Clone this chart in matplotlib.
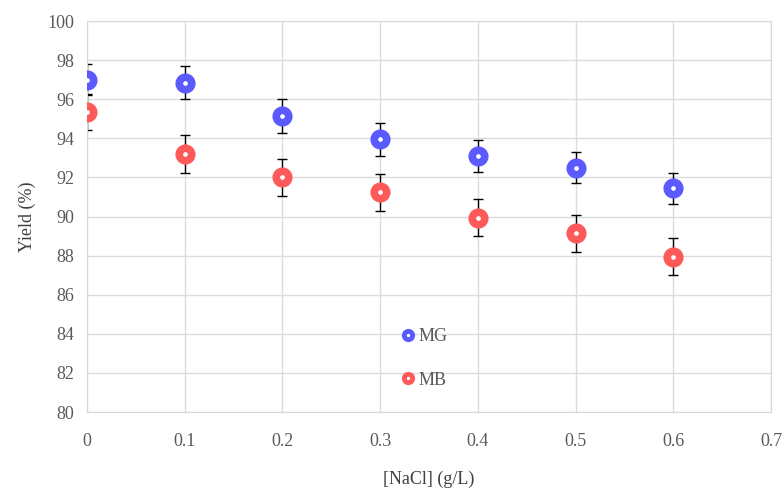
import matplotlib.pyplot as plt
from matplotlib.lines import Line2D

plt.rcParams['font.family'] = ['Liberation Serif', 'DejaVu Serif']

nacl = [0, 0.1, 0.2, 0.3, 0.4, 0.5, 0.6]
mg_yield = [97.0, 96.85, 95.15, 93.95, 93.1, 92.5, 91.45]
mg_err = [0.8, 0.85, 0.85, 0.85, 0.8, 0.8, 0.8]
mb_yield = [95.35, 93.2, 92.0, 91.25, 89.95, 89.15, 87.95]
mb_err = [0.9, 0.95, 0.95, 0.95, 0.95, 0.95, 0.95]

mg_color = '#5a5aff'
mb_color = '#ff5a5a'

fig = plt.figure(figsize=(7.82, 4.9), dpi=100)
ax = fig.add_axes([0.111, 0.159, 0.875, 0.798])

ax.errorbar(nacl, mg_yield, yerr=mg_err, fmt='none', ecolor='black', elinewidth=1, capsize=3.5, capthick=1, zorder=2)
ax.errorbar(nacl, mb_yield, yerr=mb_err, fmt='none', ecolor='black', elinewidth=1, capsize=3.5, capthick=1, zorder=2)
ax.plot(nacl, mg_yield, linestyle='none', marker='o', markersize=9, markerfacecolor='white',
        markeredgecolor=mg_color, markeredgewidth=5.5, zorder=3)
ax.plot(nacl, mb_yield, linestyle='none', marker='o', markersize=9, markerfacecolor='white',
        markeredgecolor=mb_color, markeredgewidth=5.5, zorder=3)

ax.set_xlim(0, 0.7)
ax.set_ylim(80, 100)
ax.set_xticks([0, 0.1, 0.2, 0.3, 0.4, 0.5, 0.6, 0.7])
ax.set_xticklabels(['0', '0.1', '0.2', '0.3', '0.4', '0.5', '0.6', '0.7'])
ax.set_yticks(range(80, 101, 2))
ax.grid(True, color='#dcdcdc', linewidth=1)
ax.set_axisbelow(True)
for s in ax.spines.values():
    s.set_color('#d9d9d9')
ax.tick_params(axis='both', length=0, labelsize=13, colors='#595959')
ax.tick_params(axis='x', pad=15)
ax.tick_params(axis='y', pad=9)

ax.set_xlabel('[NaCl] (g/L)', fontsize=13, color='#404040', va='center')
ax.xaxis.set_label_coords(0.5, -0.172)
ax.set_ylabel('Yield (%)', fontsize=13, color='#404040', labelpad=8)

handles = [
    Line2D([], [], linestyle='none', marker='o', markersize=6, markerfacecolor='white',
           markeredgecolor=mg_color, markeredgewidth=3.5),
    Line2D([], [], linestyle='none', marker='o', markersize=6, markerfacecolor='white',
           markeredgecolor=mb_color, markeredgewidth=3.5),
]
leg = ax.legend(handles, ['MG', 'MB'], loc='center left', bbox_to_anchor=(0.43, 0.137), frameon=False,
                fontsize=13, handletextpad=0.0, labelspacing=1.45, handlelength=1.2)
for t in leg.get_texts():
    t.set_color('#595959')

plt.savefig('out.png', dpi=100)
